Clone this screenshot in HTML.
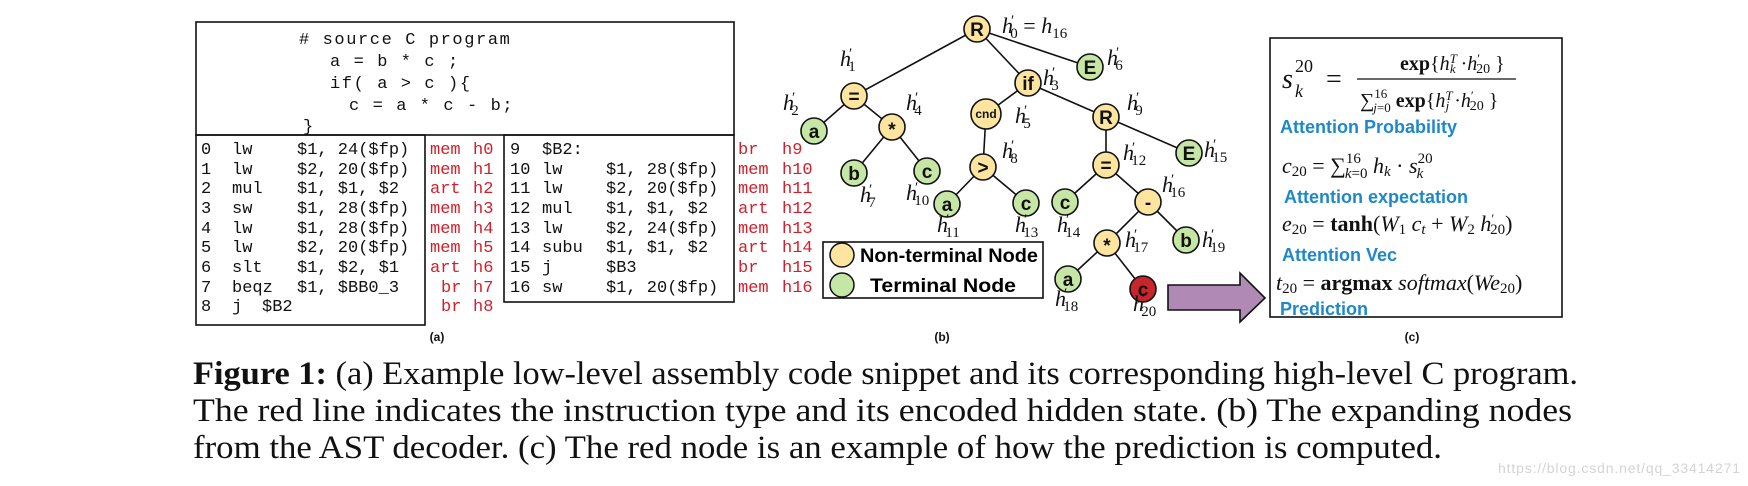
<!DOCTYPE html>
<html><head><meta charset="utf-8"><style>
html,body{margin:0;padding:0;background:#fff;}
svg{display:block;}
.mono{font-family:"Liberation Mono",monospace;font-size:17px;fill:#111;}
.src{font-family:"Liberation Mono",monospace;font-size:17px;fill:#111;letter-spacing:1.6px;}
.red{font-family:"Liberation Mono",monospace;font-size:17px;fill:#d0202c;}
.nd{font-family:"Liberation Sans",sans-serif;font-weight:bold;font-size:19px;fill:#111;text-anchor:middle;}
.h{font-family:"Liberation Serif",serif;font-style:italic;font-size:22px;fill:#111;}
.sub{font-style:normal;font-size:15px;}
.blue{font-family:"Liberation Sans",sans-serif;font-weight:bold;font-size:18px;fill:#1e88c8;}
.m{font-family:"Liberation Serif",serif;font-size:22px;fill:#111;}
.cap{font-family:"Liberation Serif",serif;font-size:33px;fill:#111;}
.lab{font-family:"Liberation Sans",sans-serif;font-weight:bold;font-size:12px;fill:#111;text-anchor:middle;}
</style></head><body>
<svg width="1748" height="486" viewBox="0 0 1748 486" xmlns="http://www.w3.org/2000/svg">
<g fill="none" stroke="#111" stroke-width="1.6">
<rect x="196" y="22" width="538" height="113"/>
<rect x="196" y="135" width="229" height="190"/>
<rect x="504" y="135" width="230" height="167"/>
</g>
<g xml:space="preserve">
<text class="src" x="299" y="44"># source C program</text>
<text class="src" x="330" y="66">a = b * c ;</text>
<text class="src" x="330" y="88">if( a &gt; c ){</text>
<text class="src" x="349" y="110">c = a * c - b;</text>
<text class="src" x="303" y="131">}</text>
</g>
<g class="mono">
<text x="201" y="154">0</text><text x="232" y="154">lw</text><text x="297" y="154" xml:space="preserve">$1, 24($fp)</text>
<text x="201" y="174">1</text><text x="232" y="174">lw</text><text x="297" y="174" xml:space="preserve">$2, 20($fp)</text>
<text x="201" y="193">2</text><text x="232" y="193">mul</text><text x="297" y="193" xml:space="preserve">$1, $1, $2</text>
<text x="201" y="213">3</text><text x="232" y="213">sw</text><text x="297" y="213" xml:space="preserve">$1, 28($fp)</text>
<text x="201" y="233">4</text><text x="232" y="233">lw</text><text x="297" y="233" xml:space="preserve">$1, 28($fp)</text>
<text x="201" y="252">5</text><text x="232" y="252">lw</text><text x="297" y="252" xml:space="preserve">$2, 20($fp)</text>
<text x="201" y="272">6</text><text x="232" y="272">slt</text><text x="297" y="272" xml:space="preserve">$1, $2, $1</text>
<text x="201" y="292">7</text><text x="232" y="292">beqz</text><text x="297" y="292" xml:space="preserve">$1, $BB0_3</text>
<text x="201" y="311">8</text><text x="232" y="311">j</text><text x="262" y="311">$B2</text>

<text x="510" y="154">9</text><text x="542" y="154">$B2:</text>
<text x="510" y="174">10</text><text x="542" y="174">lw</text><text x="606" y="174" xml:space="preserve">$1, 28($fp)</text>
<text x="510" y="193">11</text><text x="542" y="193">lw</text><text x="606" y="193" xml:space="preserve">$2, 20($fp)</text>
<text x="510" y="213">12</text><text x="542" y="213">mul</text><text x="606" y="213" xml:space="preserve">$1, $1, $2</text>
<text x="510" y="233">13</text><text x="542" y="233">lw</text><text x="606" y="233" xml:space="preserve">$2, 24($fp)</text>
<text x="510" y="252">14</text><text x="542" y="252">subu</text><text x="606" y="252" xml:space="preserve">$1, $1, $2</text>
<text x="510" y="272">15</text><text x="542" y="272">j</text><text x="606" y="272">$B3</text>
<text x="510" y="292">16</text><text x="542" y="292">sw</text><text x="606" y="292" xml:space="preserve">$1, 20($fp)</text>
</g>
<g class="red">
<text x="430" y="154">mem</text><text x="473" y="154">h0</text>
<text x="430" y="174">mem</text><text x="473" y="174">h1</text>
<text x="430" y="193">art</text><text x="473" y="193">h2</text>
<text x="430" y="213">mem</text><text x="473" y="213">h3</text>
<text x="430" y="233">mem</text><text x="473" y="233">h4</text>
<text x="430" y="252">mem</text><text x="473" y="252">h5</text>
<text x="430" y="272">art</text><text x="473" y="272">h6</text>
<text x="441" y="292">br</text><text x="473" y="292">h7</text>
<text x="441" y="311">br</text><text x="473" y="311">h8</text>
<text x="738" y="154">br</text><text x="782" y="154">h9</text>
<text x="738" y="174">mem</text><text x="782" y="174">h10</text>
<text x="738" y="193">mem</text><text x="782" y="193">h11</text>
<text x="738" y="213">art</text><text x="782" y="213">h12</text>
<text x="738" y="233">mem</text><text x="782" y="233">h13</text>
<text x="738" y="252">art</text><text x="782" y="252">h14</text>
<text x="738" y="272">br</text><text x="782" y="272">h15</text>
<text x="738" y="292">mem</text><text x="782" y="292">h16</text>
</g>
<text class="lab" x="437" y="341">(a)</text>
<text class="lab" x="942" y="341">(b)</text>
<text class="lab" x="1412" y="341">(c)</text>

<g stroke="#111" stroke-width="1.6">
<line x1="977" y1="29" x2="854" y2="96"/>
<line x1="977" y1="29" x2="1028" y2="83"/>
<line x1="977" y1="29" x2="1090" y2="67"/>
<line x1="854" y1="96" x2="814" y2="131"/>
<line x1="854" y1="96" x2="892" y2="127"/>
<line x1="892" y1="127" x2="854" y2="173"/>
<line x1="892" y1="127" x2="927" y2="171"/>
<line x1="1028" y1="83" x2="986" y2="114"/>
<line x1="1028" y1="83" x2="1106" y2="117"/>
<line x1="986" y1="114" x2="983" y2="167"/>
<line x1="983" y1="167" x2="947" y2="204"/>
<line x1="983" y1="167" x2="1026" y2="203"/>
<line x1="1106" y1="117" x2="1106" y2="165"/>
<line x1="1106" y1="117" x2="1189" y2="153"/>
<line x1="1106" y1="165" x2="1065" y2="202"/>
<line x1="1106" y1="165" x2="1148" y2="202"/>
<line x1="1148" y1="202" x2="1107" y2="243"/>
<line x1="1148" y1="202" x2="1186" y2="240"/>
<line x1="1107" y1="243" x2="1068" y2="279"/>
<line x1="1107" y1="243" x2="1143" y2="289"/>
</g>
<g stroke="#111" stroke-width="1.6">
<circle cx="977" cy="29" r="13" fill="#fde59f"/>
<circle cx="1090" cy="67" r="13" fill="#c6e6a6"/>
<circle cx="854" cy="96" r="13" fill="#fde59f"/>
<circle cx="814" cy="131" r="13" fill="#c6e6a6"/>
<circle cx="892" cy="127" r="13" fill="#fde59f"/>
<circle cx="854" cy="173" r="13" fill="#c6e6a6"/>
<circle cx="927" cy="171" r="13" fill="#c6e6a6"/>
<circle cx="1028" cy="83" r="13" fill="#fde59f"/>
<circle cx="986" cy="114" r="15" fill="#fde59f"/>
<circle cx="983" cy="167" r="13" fill="#fde59f"/>
<circle cx="947" cy="204" r="13" fill="#c6e6a6"/>
<circle cx="1026" cy="203" r="13" fill="#c6e6a6"/>
<circle cx="1106" cy="117" r="13" fill="#fde59f"/>
<circle cx="1106" cy="165" r="13" fill="#fde59f"/>
<circle cx="1189" cy="153" r="13" fill="#c6e6a6"/>
<circle cx="1065" cy="202" r="13" fill="#c6e6a6"/>
<circle cx="1148" cy="202" r="13" fill="#fde59f"/>
<circle cx="1186" cy="240" r="13" fill="#c6e6a6"/>
<circle cx="1107" cy="243" r="13" fill="#fde59f"/>
<circle cx="1068" cy="279" r="13" fill="#c6e6a6"/>
<circle cx="1143" cy="289" r="13" fill="#c8252d"/>
</g>
<g class="nd">
<text x="977" y="36">R</text>
<text x="1090" y="74">E</text>
<text x="854" y="103">=</text>
<text x="814" y="138">a</text>
<text x="892" y="136">*</text>
<text x="854" y="180">b</text>
<text x="927" y="178">c</text>
<text x="1028" y="90">if</text>
<text x="986" y="118" style="font-size:12px">cnd</text>
<text x="983" y="174">&gt;</text>
<text x="947" y="211">a</text>
<text x="1026" y="210">c</text>
<text x="1106" y="124">R</text>
<text x="1106" y="172">=</text>
<text x="1189" y="160">E</text>
<text x="1065" y="209">c</text>
<text x="1148" y="209">-</text>
<text x="1186" y="247">b</text>
<text x="1107" y="252">*</text>
<text x="1068" y="286">a</text>
<text x="1143" y="296">c</text>
</g>
<g class="h">
<text x="1002" y="33">h<tspan class="sub" dy="-8" dx="-2">′</tspan><tspan class="sub" dy="13" dx="-4">0</tspan><tspan dy="-5" style="font-style:normal"> = </tspan>h<tspan class="sub" dy="5">16</tspan></text>
<text x="840" y="66">h<tspan class="sub" dy="-8" dx="-2">′</tspan><tspan class="sub" dy="13" dx="-4">1</tspan></text>
<text x="783" y="110">h<tspan class="sub" dy="-8" dx="-2">′</tspan><tspan class="sub" dy="13" dx="-4">2</tspan></text>
<text x="906" y="110">h<tspan class="sub" dy="-8" dx="-2">′</tspan><tspan class="sub" dy="13" dx="-4">4</tspan></text>
<text x="860" y="202">h<tspan class="sub" dy="-8" dx="-2">′</tspan><tspan class="sub" dy="13" dx="-4">7</tspan></text>
<text x="906" y="200">h<tspan class="sub" dy="-8" dx="-2">′</tspan><tspan class="sub" dy="13" dx="-4">10</tspan></text>
<text x="937" y="232">h<tspan class="sub" dy="-8" dx="-2">′</tspan><tspan class="sub" dy="13" dx="-4">11</tspan></text>
<text x="1015" y="232">h<tspan class="sub" dy="-8" dx="-2">′</tspan><tspan class="sub" dy="13" dx="-4">13</tspan></text>
<text x="1057" y="232">h<tspan class="sub" dy="-8" dx="-2">′</tspan><tspan class="sub" dy="13" dx="-4">14</tspan></text>
<text x="1043" y="85">h<tspan class="sub" dy="-8" dx="-2">′</tspan><tspan class="sub" dy="13" dx="-4">3</tspan></text>
<text x="1015" y="123">h<tspan class="sub" dy="-8" dx="-2">′</tspan><tspan class="sub" dy="13" dx="-4">5</tspan></text>
<text x="1107" y="65">h<tspan class="sub" dy="-8" dx="-2">′</tspan><tspan class="sub" dy="13" dx="-4">6</tspan></text>
<text x="1002" y="158">h<tspan class="sub" dy="-8" dx="-2">′</tspan><tspan class="sub" dy="13" dx="-4">8</tspan></text>
<text x="1127" y="110">h<tspan class="sub" dy="-8" dx="-2">′</tspan><tspan class="sub" dy="13" dx="-4">9</tspan></text>
<text x="1123" y="160">h<tspan class="sub" dy="-8" dx="-2">′</tspan><tspan class="sub" dy="13" dx="-4">12</tspan></text>
<text x="1204" y="157">h<tspan class="sub" dy="-8" dx="-2">′</tspan><tspan class="sub" dy="13" dx="-4">15</tspan></text>
<text x="1162" y="192">h<tspan class="sub" dy="-8" dx="-2">′</tspan><tspan class="sub" dy="13" dx="-4">16</tspan></text>
<text x="1125" y="247">h<tspan class="sub" dy="-8" dx="-2">′</tspan><tspan class="sub" dy="13" dx="-4">17</tspan></text>
<text x="1202" y="247">h<tspan class="sub" dy="-8" dx="-2">′</tspan><tspan class="sub" dy="13" dx="-4">19</tspan></text>
<text x="1055" y="306">h<tspan class="sub" dy="-8" dx="-2">′</tspan><tspan class="sub" dy="13" dx="-4">18</tspan></text>
<text x="1133" y="311">h<tspan class="sub" dy="-8" dx="-2">′</tspan><tspan class="sub" dy="13" dx="-4">20</tspan></text>
</g>
<rect x="823" y="242" width="220" height="56" fill="#fff" stroke="#111" stroke-width="1.6"/>
<circle cx="842" cy="255" r="12" fill="#fde59f" stroke="#111" stroke-width="1.5"/>
<circle cx="842" cy="285" r="12" fill="#c6e6a6" stroke="#111" stroke-width="1.5"/>
<text x="860" y="262" style="font-family:'Liberation Sans',sans-serif;font-weight:bold;font-size:19px" textLength="178" lengthAdjust="spacingAndGlyphs">Non-terminal Node</text>
<text x="870" y="292" style="font-family:'Liberation Sans',sans-serif;font-weight:bold;font-size:19px" textLength="146" lengthAdjust="spacingAndGlyphs">Terminal Node</text>
<polygon points="1168,285 1240,285 1240,273 1265,298 1240,322 1240,310 1168,310" fill="#b08ab4" stroke="#111" stroke-width="1.6"/>
<rect x="1270" y="38" width="292" height="279" fill="none" stroke="#111" stroke-width="1.6"/>
<g class="m">
<text x="1282" y="88" style="font-style:italic;font-size:28px">s</text>
<text x="1295" y="72" style="font-size:18px">20</text>
<text x="1295" y="97" style="font-style:italic;font-size:18px">k</text>
<text x="1326" y="88" style="font-size:28px">=</text>
<line x1="1357" y1="79" x2="1516" y2="79" stroke="#111" stroke-width="1.3"/>
<text x="1400" y="70" style="font-size:20px"><tspan font-weight="bold">exp</tspan>{<tspan font-style="italic">h</tspan><tspan font-size="13" dy="-7" font-style="italic">T</tspan><tspan font-size="13" dy="10" dx="-7" font-style="italic">k</tspan><tspan dy="-3"> ·</tspan><tspan font-style="italic">h</tspan><tspan font-size="13" dy="-7">′</tspan><tspan font-size="14" dy="10" dx="-4">20</tspan><tspan dy="-3"> }</tspan></text>
<text x="1360" y="107" style="font-size:20px">∑<tspan font-size="13" dy="-9">16</tspan><tspan font-size="13" dy="14" dx="-14" font-style="italic">j</tspan><tspan font-size="13">=0</tspan><tspan dy="-5" font-weight="bold"> exp</tspan>{<tspan font-style="italic">h</tspan><tspan font-size="13" dy="-7" font-style="italic">T</tspan><tspan font-size="13" dy="10" dx="-7" font-style="italic">j</tspan><tspan dy="-3"> ·</tspan><tspan font-style="italic">h</tspan><tspan font-size="13" dy="-7">′</tspan><tspan font-size="14" dy="10" dx="-4">20</tspan><tspan dy="-3"> }</tspan></text>
<text x="1282" y="173"><tspan font-style="italic">c</tspan><tspan font-size="15" dy="3">20</tspan><tspan dy="-3"> = ∑</tspan><tspan font-size="15" dy="-10">16</tspan><tspan font-size="15" dy="15" dx="-16" font-style="italic">k</tspan><tspan font-size="15">=0</tspan><tspan dy="-5" font-style="italic"> h</tspan><tspan font-size="15" dy="3" font-style="italic">k</tspan><tspan dy="-3"> · </tspan><tspan font-style="italic">s</tspan><tspan font-size="15" dy="-10">20</tspan><tspan font-size="15" dy="15" dx="-16" font-style="italic">k</tspan></text>
<text x="1282" y="231"><tspan font-style="italic">e</tspan><tspan font-size="15" dy="3">20</tspan><tspan dy="-3"> = </tspan><tspan font-weight="bold">tanh</tspan>(<tspan font-style="italic">W</tspan><tspan font-size="15" dy="3">1</tspan><tspan dy="-3" font-style="italic"> c</tspan><tspan font-size="15" dy="3" font-style="italic">t</tspan><tspan dy="-3"> + </tspan><tspan font-style="italic">W</tspan><tspan font-size="15" dy="3">2</tspan><tspan dy="-3" font-style="italic"> h</tspan><tspan font-size="13" dy="-8">′</tspan><tspan font-size="15" dy="11" dx="-4">20</tspan><tspan dy="-3">)</tspan></text>
<text x="1276" y="290"><tspan font-style="italic">t</tspan><tspan font-size="15" dy="3">20</tspan><tspan dy="-3"> = </tspan><tspan font-weight="bold">argmax</tspan><tspan font-style="italic"> softmax</tspan>(<tspan font-style="italic">We</tspan><tspan font-size="15" dy="3">20</tspan><tspan dy="-3">)</tspan></text>
</g>
<text class="blue" x="1280" y="133">Attention Probability</text>
<text class="blue" x="1284" y="203">Attention expectation</text>
<text class="blue" x="1282" y="261">Attention Vec</text>
<text class="blue" x="1280" y="315">Prediction</text>
<text class="cap" x="193" y="384" textLength="1385" lengthAdjust="spacingAndGlyphs"><tspan font-weight="bold">Figure 1:</tspan> (a) Example low-level assembly code snippet and its corresponding high-level C program.</text>
<text class="cap" x="193" y="421" textLength="1379" lengthAdjust="spacingAndGlyphs">The red line indicates the instruction type and its encoded hidden state. (b) The expanding nodes</text>
<text class="cap" x="193" y="458" textLength="1249" lengthAdjust="spacingAndGlyphs">from the AST decoder. (c) The red node is an example of how the prediction is computed.</text>
<text x="1498" y="473" style="font-family:'Liberation Sans',sans-serif;font-size:14px;fill:#d4d4d4" textLength="242">https://blog.csdn.net/qq_33414271</text>
</svg>
</body></html>
